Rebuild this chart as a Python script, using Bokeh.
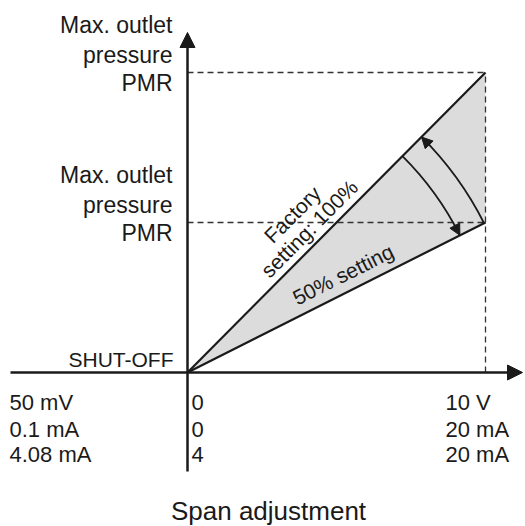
import numpy as np
from bokeh.plotting import figure
from bokeh.models import Range1d, Arrow, NormalHead
from bokeh.core.properties import value
from bokeh.embed import file_html
from bokeh.resources import INLINE

# ---------------- data ----------------
span_end_v = 10.0                      # full span: 10 V
pressure_levels = [100, 50]            # % of PMR: factory setting 100 %, 50 % setting
level_labels = ["Max. outlet", "pressure", "PMR"]
shutoff_label = "SHUT-OFF"
signal_start = ["50 mV", "0.1 mA", "4.08 mA"]
signal_zero = ["0", "0", "4"]
signal_end = ["10 V", "20 mA", "20 mA"]
factory_label = ["Factory", "setting: 100%"]
half_label = "50% setting"
x_title = "Span adjustment"

# ---------------- layout ----------------
W, H = 525, 526
OX, OY = 187, 372          # canvas pixel of the origin
KX, KY = 29.8, 3.0         # pixels per volt, pixels per %
INK = "#1a1a1a"
FILL = "#dcdcdc"
FONT = value("Liberation Sans")


def dx(px):
    return px / KX


def dy(px):
    return px / KY


p = figure(width=W, height=H,
           x_range=Range1d(-OX / KX, (W - OX) / KX),
           y_range=Range1d(-(H - OY) / KY, OY / KY),
           x_axis_type=None, y_axis_type=None,
           output_backend="svg", toolbar_location=None,
           min_border=0, title=None)
p.grid.visible = False
p.outline_line_color = None
p.background_fill_color = "white"
p.border_fill_color = "white"

hi, lo = pressure_levels
xm = span_end_v

# shaded adjustment wedge
p.patch([0, xm, xm], [0, hi, lo], fill_color=FILL, line_color=None)

# dashed guides
p.segment(x0=[0, 0, xm], y0=[hi, lo, 0], x1=[xm, xm, xm], y1=[hi, lo, hi],
          line_dash="6 4", line_width=1.3, line_color="#333333")

# characteristic lines
p.segment(x0=[0, 0], y0=[0, 0], x1=[xm, xm], y1=[hi, lo],
          line_width=2.2, line_color=INK)

# axes with arrows
p.add_layout(Arrow(end=NormalHead(size=15, fill_color=INK, line_color=INK, line_width=1),
                   x_start=0, y_start=-dy(99), x_end=0, y_end=dy(340),
                   line_width=2.5, line_color=INK))
p.add_layout(Arrow(end=NormalHead(size=15, fill_color=INK, line_color=INK, line_width=1),
                   x_start=-dx(177), y_start=0, x_end=dx(335), y_end=0,
                   line_width=2.5, line_color=INK))

# adjustment arcs
th_hi = np.arctan2(hi * KY, xm * KX)
th_lo = np.arctan2(lo * KY, xm * KX)
r_out, r_in = 332, 305
p.arc(x=[0, 0], y=[0, 0], radius=[r_out, r_in], radius_units="screen",
      start_angle=[th_lo, th_lo], end_angle=[th_hi, th_hi],
      line_width=1.8, line_color=INK)


def polar(r, th):
    return r * np.cos(th) / KX, r * np.sin(th) / KY


for r, th_end, th_start in [(r_out, th_hi, th_hi - 12 / r_out),
                            (r_in, th_lo, th_lo + 12 / r_in)]:
    xs, ys = polar(r, th_start)
    xe, ye = polar(r, th_end)
    p.add_layout(Arrow(end=NormalHead(size=11, fill_color=INK, line_color=INK, line_width=1),
                       x_start=xs, y_start=ys, x_end=xe, y_end=ye,
                       line_width=1.8, line_color=INK))

# level labels (left)
for lev in pressure_levels:
    p.text(x=[-dx(15)] * 3, y=[lev + dy(47.5), lev + dy(17.5), lev - dy(10.5)],
           text=level_labels, text_align="right", text_baseline="middle",
           text_font=FONT, text_font_size=value("23px"), text_color=INK)

p.text(x=[-dx(14)], y=[dy(13)], text=[shutoff_label], text_align="right",
       text_baseline="middle", text_font=FONT, text_font_size=value("21px"),
       text_color=INK)

# signal labels (below)
rows = [-dy(30), -dy(56.5), -dy(82)]
for col_x, labels in [(-dx(178), signal_start), (dx(4), signal_zero), (dx(258), signal_end)]:
    p.text(x=[col_x] * 3, y=rows, text=labels, text_align="left",
           text_baseline="middle", text_font=FONT,
           text_font_size=value("22px"), text_color=INK)

p.text(x=[dx(81)], y=[-dy(138)], text=[x_title], text_align="center",
       text_baseline="middle", text_font=FONT, text_font_size=value("26px"),
       text_color=INK)


# rotated labels along the characteristic lines
def along(th, s, d):
    px = s * np.cos(th) - d * np.sin(th)
    py = s * np.sin(th) + d * np.cos(th)
    return px / KX, py / KY


fx, fy = along(th_hi, 186, 37)
sx, sy = along(th_hi, 188, 15)
hx, hy = along(th_lo, 183, 17.6)
p.text(x=[fx, sx], y=[fy, sy], text=factory_label, angle=th_hi,
       text_align="center", text_baseline="middle", text_font=FONT,
       text_font_size=value("21px"), text_color=INK)
p.text(x=[hx], y=[hy], text=[half_label], angle=th_lo,
       text_align="center", text_baseline="middle", text_font=FONT,
       text_font_size=value("21px"), text_color=INK)

open("out.html", "w").write(file_html(p, INLINE))
